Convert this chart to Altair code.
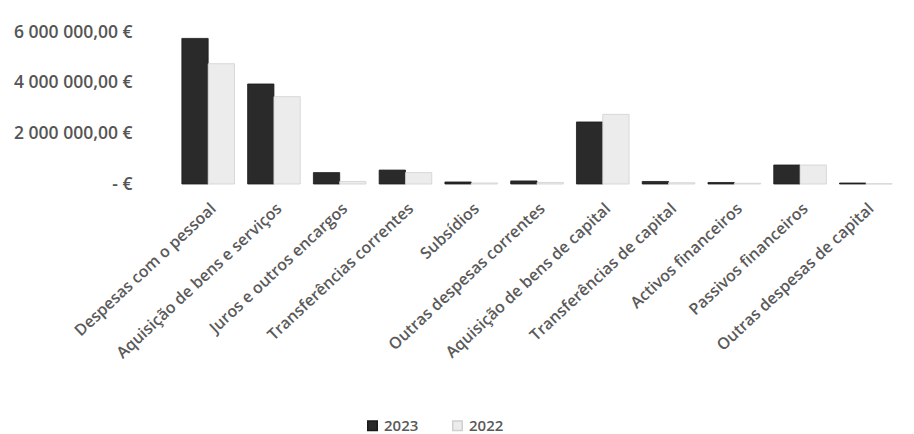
import altair as alt
import pandas as pd

categories = [
    "Despesas com o pessoal",
    "Aquisição de bens e serviços",
    "Juros e outros encargos",
    "Transferências correntes",
    "Subsídios",
    "Outras despesas correntes",
    "Aquisição de bens de capital",
    "Transferências de capital",
    "Activos financeiros",
    "Passivos financeiros",
    "Outras despesas de capital",
]
values_2023 = [5750000, 3950000, 450000, 550000, 80000, 120000, 2450000, 100000, 60000, 750000, 40000]
values_2022 = [4750000, 3450000, 100000, 450000, 40000, 60000, 2750000, 50000, 30000, 750000, 10000]
years = ["2023", "2022"]
y_ticks = [0, 2000000, 4000000, 6000000]

rows = []
for c, v in zip(categories, values_2023):
    rows.append({"cat": c, "ano": "2023", "valor": v})
for c, v in zip(categories, values_2022):
    rows.append({"cat": c, "ano": "2022", "valor": v})
df = pd.DataFrame(rows)

label_expr = (
    "datum.value == 0 ? '-   €' : "
    "replace(replace(replace(format(datum.value, ',.2f'), regexp(',', 'g'), '#'), '.', ','), regexp('#', 'g'), ' ') + ' €'"
)

chart = (
    alt.Chart(df)
    .mark_bar(strokeWidth=0.8)
    .encode(
        x=alt.X(
            "cat:N",
            sort=categories,
            title=None,
            scale=alt.Scale(paddingInner=0.2, paddingOuter=0.15),
            axis=alt.Axis(
                labelAngle=-43,
                labelFontSize=16,
                labelColor="#5a5a5a",
                labelFont="Open Sans",
                labelFontWeight=600,
                labelLimit=400,
                ticks=False,
                domain=False,
                labelPadding=16,
            ),
        ),
        xOffset=alt.XOffset("ano:N", sort=years),
        y=alt.Y(
            "valor:Q",
            title=None,
            scale=alt.Scale(domain=[0, 6200000], nice=False),
            axis=alt.Axis(
                values=y_ticks,
                labelExpr=label_expr,
                labelFontSize=17.5,
                labelColor="#555555",
                labelFont="Open Sans",
                labelFontWeight=600,
                grid=False,
                ticks=False,
                domain=False,
                labelPadding=40,
            ),
        ),
        color=alt.Color(
            "ano:N",
            sort=years,
            scale=alt.Scale(domain=years, range=["#2a2a2a", "#ececec"]),
            legend=alt.Legend(
                title=None,
                orient="none",
                direction="horizontal",
                legendX=193,
                legendY=391,
                labelFontSize=15,
                labelColor="#595959",
                labelFont="Open Sans",
                labelFontWeight=600,
                symbolType="square",
                symbolSize=90,
                columnPadding=30,
                labelOffset=4,
            ),
        ),
        stroke=alt.Stroke(
            "ano:N",
            sort=years,
            scale=alt.Scale(domain=years, range=["#1a1a1a", "#d0d0d0"]),
            legend=None,
        ),
    )
    .properties(width=730, height=157, padding={"top": 15, "left": 5, "right": 0, "bottom": 0})
    .configure_view(stroke=None)
)

chart.save("out.html", embed_options={"renderer": "svg", "actions": False})
